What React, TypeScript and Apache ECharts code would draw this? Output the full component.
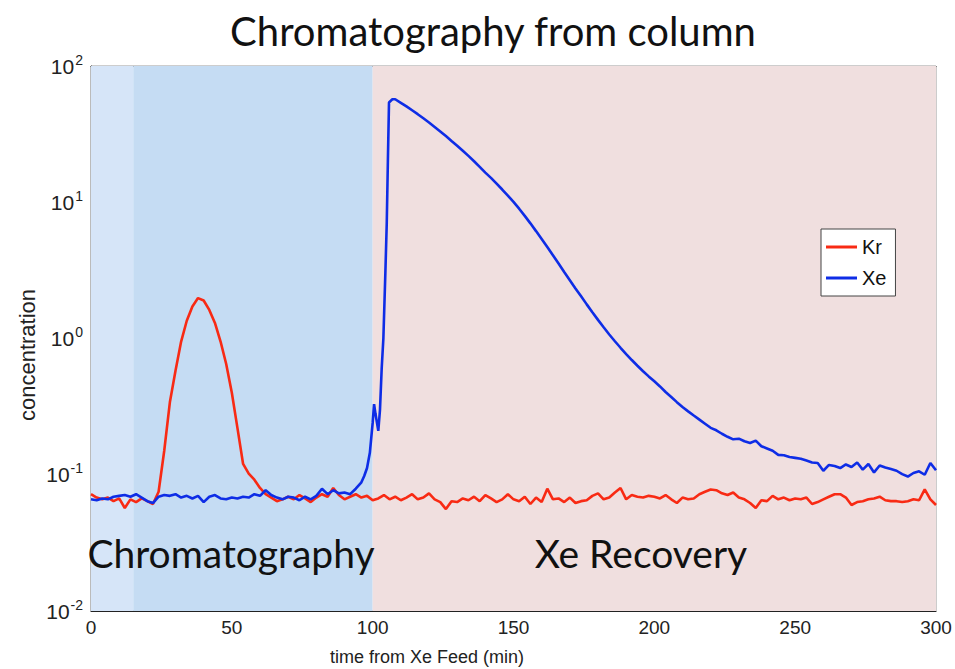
import React, { useEffect, useRef } from "react";
import * as echarts from "echarts";

// Kr concentration vs. time from Xe feed (min)
const KR_DATA: [number, number][] = [
  [0, 0.072], [2, 0.068], [4, 0.066], [6, 0.068], [8, 0.064], [10, 0.067], [12, 0.057], [14, 0.066],
  [16, 0.063], [18, 0.067], [20, 0.064], [22, 0.061], [24, 0.075], [26, 0.15], [28, 0.34], [30, 0.58],
  [32, 0.95], [34, 1.35], [36, 1.72], [38, 1.98], [40, 1.9], [42, 1.62], [44, 1.3], [46, 0.95],
  [48, 0.65], [50, 0.4], [52, 0.22], [54, 0.12], [56, 0.102], [58, 0.092], [60, 0.08], [62, 0.072],
  [64, 0.068], [66, 0.064], [68, 0.066], [70, 0.069], [72, 0.066], [74, 0.071], [76, 0.067], [78, 0.063],
  [80, 0.068], [82, 0.072], [84, 0.069], [86, 0.08], [88, 0.071], [90, 0.066], [92, 0.069], [94, 0.072],
  [96, 0.068], [98, 0.07], [100, 0.065], [102, 0.067], [104, 0.071], [106, 0.066], [108, 0.069], [110, 0.065],
  [112, 0.068], [114, 0.072], [116, 0.066], [118, 0.068], [120, 0.073], [122, 0.066], [124, 0.063], [126, 0.056],
  [128, 0.064], [130, 0.063], [132, 0.067], [134, 0.065], [136, 0.069], [138, 0.064], [140, 0.071], [142, 0.067],
  [144, 0.063], [146, 0.066], [148, 0.072], [150, 0.066], [152, 0.064], [154, 0.069], [156, 0.061], [158, 0.068],
  [160, 0.063], [162, 0.079], [164, 0.066], [166, 0.067], [168, 0.063], [170, 0.068], [172, 0.062], [174, 0.064],
  [176, 0.065], [178, 0.07], [180, 0.073], [182, 0.066], [184, 0.068], [186, 0.074], [188, 0.08], [190, 0.066],
  [192, 0.071], [194, 0.069], [196, 0.068], [198, 0.07], [200, 0.069], [202, 0.067], [204, 0.071], [206, 0.066],
  [208, 0.062], [210, 0.068], [212, 0.066], [214, 0.067], [216, 0.072], [218, 0.075], [220, 0.078], [222, 0.077],
  [224, 0.073], [226, 0.071], [228, 0.074], [230, 0.068], [232, 0.066], [234, 0.062], [236, 0.057], [238, 0.065],
  [240, 0.064], [242, 0.07], [244, 0.066], [246, 0.068], [248, 0.065], [250, 0.067], [252, 0.066], [254, 0.068],
  [256, 0.061], [258, 0.063], [260, 0.066], [262, 0.069], [264, 0.072], [266, 0.072], [268, 0.068], [270, 0.06],
  [272, 0.063], [274, 0.064], [276, 0.066], [278, 0.067], [280, 0.069], [282, 0.065], [284, 0.064], [286, 0.064],
  [288, 0.063], [290, 0.064], [292, 0.066], [294, 0.065], [296, 0.078], [298, 0.066], [300, 0.06],
];

// Xe concentration vs. time from Xe feed (min)
const XE_DATA: [number, number][] = [
  [0, 0.066], [2, 0.065], [4, 0.067], [6, 0.066], [8, 0.069], [10, 0.07], [12, 0.071], [14, 0.069],
  [16, 0.072], [18, 0.068], [20, 0.064], [22, 0.062], [24, 0.069], [26, 0.071], [28, 0.07], [30, 0.072],
  [32, 0.068], [34, 0.07], [36, 0.067], [38, 0.07], [40, 0.063], [42, 0.069], [44, 0.071], [46, 0.067],
  [48, 0.066], [50, 0.068], [52, 0.067], [54, 0.069], [56, 0.068], [58, 0.072], [60, 0.07], [62, 0.077],
  [64, 0.071], [66, 0.068], [68, 0.066], [70, 0.069], [72, 0.068], [74, 0.065], [76, 0.069], [78, 0.066],
  [80, 0.07], [82, 0.079], [84, 0.072], [86, 0.077], [88, 0.073], [90, 0.074], [92, 0.072], [94, 0.079],
  [96, 0.088], [97, 0.098], [98, 0.112], [99, 0.145], [100, 0.24], [100.5, 0.33], [101, 0.28], [102, 0.21],
  [102.6, 0.3], [103.2, 0.6], [103.8, 1.0], [104.5, 3.0], [105, 7], [105.4, 20], [105.8, 54], [107, 57],
  [108, 57], [110, 53.7], [112, 50.5], [114, 47.3], [116, 44.3], [118, 41.3], [120, 38.5], [122, 35.7],
  [124, 33.1], [126, 30.6], [128, 28.2], [130, 26.0], [132, 23.9], [134, 21.9], [136, 20.0], [138, 18.2],
  [140, 16.5], [142, 15.1], [144, 13.7], [146, 12.4], [148, 11.2], [150, 10.07], [152, 8.97], [154, 7.94],
  [156, 7.0], [158, 6.14], [160, 5.37], [162, 4.69], [164, 4.08], [166, 3.55], [168, 3.08], [170, 2.68],
  [172, 2.33], [174, 2.04], [176, 1.78], [178, 1.56], [180, 1.37], [182, 1.21], [184, 1.07], [186, 0.955],
  [188, 0.855], [190, 0.769], [192, 0.695], [194, 0.631], [196, 0.575], [198, 0.527], [200, 0.485], [202, 0.445],
  [204, 0.405], [206, 0.372], [208, 0.341], [210, 0.314], [212, 0.292], [214, 0.272], [216, 0.254], [218, 0.237],
  [220, 0.221], [222, 0.212], [224, 0.2], [226, 0.19], [228, 0.182], [230, 0.184], [232, 0.176], [234, 0.171],
  [236, 0.178], [238, 0.162], [240, 0.156], [242, 0.15], [244, 0.14], [246, 0.139], [248, 0.135], [250, 0.133],
  [252, 0.131], [254, 0.127], [256, 0.123], [258, 0.122], [260, 0.107], [262, 0.118], [264, 0.116], [266, 0.112],
  [268, 0.119], [270, 0.114], [272, 0.123], [274, 0.109], [276, 0.12], [278, 0.104], [280, 0.117], [282, 0.113],
  [284, 0.11], [286, 0.107], [288, 0.101], [290, 0.097], [292, 0.103], [294, 0.106], [296, 0.1], [298, 0.122],
  [300, 0.108],
];

// Shaded phases along the time axis: [start, end, colour]
const PHASES: [number, number, string][] = [
  [0, 15, "#d6e5f8"],
  [15, 100, "#c5dcf3"],
  [100, 300, "#f0dfdf"],
];

const X_TICKS = [0, 50, 100, 150, 200, 250, 300];

const TITLE = "Chromatography from column";
const PHASE_LABELS = ["Chromatography", "Xe Recovery"];
const X_NAME = "time from Xe Feed (min)";
const Y_NAME = "concentration";

const AXIS_FONT = "'Liberation Sans', Arial, sans-serif";
const DISPLAY_FONT = "Lato, 'Open Sans', sans-serif";

const KR_COLOR = "#f82a14";
const XE_COLOR = "#0e2de6";

export default function App() {
  const ref = useRef<HTMLDivElement>(null);

  useEffect(() => {
    if (!ref.current) return;
    const chart = echarts.init(ref.current, undefined, { renderer: "svg" });

    const option = {
      animation: false,
      backgroundColor: "#ffffff",
      grid: {
        left: 91,
        right: 19,
        top: 66,
        bottom: 58,
        show: true,
        borderColor: "#9a9a9a",
        borderWidth: 1,
      },
      legend: {
        orient: "vertical",
        left: 821,
        top: 229,
        padding: [8, 9, 8, 5],
        itemGap: 11,
        itemWidth: 31,
        itemHeight: 3,
        icon: "rect",
        backgroundColor: "#ffffff",
        borderColor: "#444444",
        borderWidth: 1,
        textStyle: { fontFamily: AXIS_FONT, fontSize: 20, color: "#111" },
        data: [
          { name: "Kr", itemStyle: { color: KR_COLOR } },
          { name: "Xe", itemStyle: { color: XE_COLOR } },
        ],
      },
      xAxis: [
        {
          type: "value",
          min: 0,
          max: 300,
          interval: 50,
          axisLine: { show: true, lineStyle: { color: "#222", width: 1.2 } },
          axisTick: { show: false },
          splitLine: { show: false },
          axisLabel: {
            margin: 7,
            fontFamily: AXIS_FONT,
            fontSize: 19,
            color: "#222",
            formatter: (v: number) => (X_TICKS.includes(v) ? String(v) : ""),
          },
        },
        {
          type: "value",
          position: "top",
          min: 0,
          max: 300,
          axisLine: { show: true, lineStyle: { color: "#333", width: 1.2 } },
          axisTick: { show: false },
          axisLabel: { show: false },
          splitLine: { show: false },
        },
      ],
      yAxis: {
        type: "log",
        logBase: 10,
        min: 0.01,
        max: 100,
        splitNumber: 4,
        axisLine: { show: true, onZero: false, lineStyle: { color: "#222", width: 1.2 } },
        axisTick: { show: false },
        splitLine: { show: false },
        minorTick: { show: false },
        axisLabel: {
          margin: 8,
          formatter: (v: number) => `{b|10}{s|${Math.round(Math.log10(v))}}`,
          rich: {
            b: { fontFamily: AXIS_FONT, fontSize: 21, color: "#222" },
            s: { fontFamily: AXIS_FONT, fontSize: 14, color: "#222", padding: [0, 0, 13, 1] },
          },
        },
      },
      series: [
        {
          name: "phases",
          type: "line",
          data: [],
          z: 1,
          silent: true,
          markArea: {
            silent: true,
            data: PHASES.map(([a, b, c]) => [
              { xAxis: a, itemStyle: { color: c, opacity: 1 } },
              { xAxis: b },
            ]),
          },
        },
        {
          name: "Kr",
          type: "line",
          data: KR_DATA,
          showSymbol: false,
          symbol: "none",
          z: 3,
          color: KR_COLOR,
          lineStyle: { color: KR_COLOR, width: 2.6 },
        },
        {
          name: "Xe",
          type: "line",
          data: XE_DATA,
          showSymbol: false,
          symbol: "none",
          z: 4,
          color: XE_COLOR,
          lineStyle: { color: XE_COLOR, width: 2.6 },
        },
      ],
      graphic: [
        {
          type: "text",
          x: 493,
          y: 31,
          style: {
            text: TITLE,
            font: `40px ${DISPLAY_FONT}`,
            fill: "#111",
            align: "center",
            verticalAlign: "middle",
          },
        },
        {
          type: "text",
          x: 231,
          y: 553,
          style: {
            text: PHASE_LABELS[0],
            font: `39px ${DISPLAY_FONT}`,
            fill: "#111",
            align: "center",
            verticalAlign: "middle",
          },
          z: 10,
        },
        {
          type: "text",
          x: 641,
          y: 553,
          style: {
            text: PHASE_LABELS[1],
            font: `39px ${DISPLAY_FONT}`,
            fill: "#111",
            align: "center",
            verticalAlign: "middle",
          },
          z: 10,
        },
        {
          type: "text",
          x: 427,
          y: 657,
          style: {
            text: X_NAME,
            font: `18px ${AXIS_FONT}`,
            fill: "#222",
            align: "center",
            verticalAlign: "middle",
          },
        },
        {
          type: "text",
          x: 27,
          y: 355,
          rotation: Math.PI / 2,
          style: {
            text: Y_NAME,
            font: `22px ${AXIS_FONT}`,
            fill: "#222",
            align: "center",
            verticalAlign: "middle",
          },
        },
      ],
    };

    chart.setOption(option as any);
    return () => chart.dispose();
  }, []);

  return (
    <div
      ref={ref}
      style={{ position: "fixed", left: 0, top: 0, width: 955, height: 669 }}
    />
  );
}
